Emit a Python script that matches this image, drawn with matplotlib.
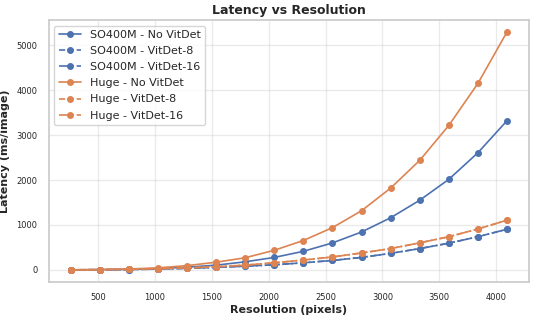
import numpy as np
import matplotlib
matplotlib.use("Agg")
import matplotlib.pyplot as plt
import seaborn as sns

sns.set_theme(style="whitegrid")

# Resolution (pixels)
resolution = [256, 512, 768, 1024, 1280, 1536, 1792, 2048, 2304, 2560,
              2816, 3072, 3328, 3584, 3840, 4096]

# Latency (ms/image)
so400m_no_vitdet = [1, 5, 12, 30, 60, 105, 180, 277, 413, 600,
                    843, 1160, 1550, 2015, 2607, 3320]
so400m_vitdet_8 = [1, 3, 8, 18, 35, 55, 83, 113, 158, 210,
                   278, 368, 474, 594, 738, 905]
so400m_vitdet_16 = [1, 3, 8, 18, 35, 55, 83, 113, 158, 210,
                    278, 368, 474, 594, 738, 905]
huge_no_vitdet = [2, 8, 20, 45, 95, 170, 270, 436, 654, 940,
                  1316, 1820, 2437, 3215, 4150, 5296]
huge_vitdet_8 = [1, 5, 12, 25, 45, 70, 106, 158, 219, 287,
                 377, 474, 602, 738, 910, 1106]
huge_vitdet_16 = [1, 5, 12, 25, 45, 70, 106, 158, 219, 287,
                  377, 474, 602, 738, 910, 1106]

blue, orange = sns.color_palette("deep")[0], sns.color_palette("deep")[1]

series = [
    ("SO400M - No VitDet", so400m_no_vitdet, blue, "-"),
    ("SO400M - VitDet-8", so400m_vitdet_8, blue, "--"),
    ("SO400M - VitDet-16", so400m_vitdet_16, blue, "-."),
    ("Huge - No VitDet", huge_no_vitdet, orange, "-"),
    ("Huge - VitDet-8", huge_vitdet_8, orange, "--"),
    ("Huge - VitDet-16", huge_vitdet_16, orange, "-."),
]

fig, ax = plt.subplots(figsize=(5.38, 3.22), dpi=100)

for label, vals, color, ls in series:
    ax.plot(resolution, vals, marker="o", markersize=4, linewidth=1.2,
            color=color, linestyle=ls, label=label)

ax.set_title("Latency vs Resolution", fontsize=9, fontweight="bold", pad=4)
ax.set_xlabel("Resolution (pixels)", fontsize=8, fontweight="bold", labelpad=2)
ax.set_ylabel("Latency (ms/image)", fontsize=8, fontweight="bold", labelpad=5)
ax.tick_params(axis="both", labelsize=6, pad=2)
ax.grid(True, alpha=0.4)
ax.legend(loc="upper left", fontsize=8, frameon=True, handlelength=2,
          labelspacing=0.55, borderpad=0.4)

plt.subplots_adjust(left=0.0905, right=0.983, top=0.938, bottom=0.125)
plt.savefig("out.png", dpi=100)
